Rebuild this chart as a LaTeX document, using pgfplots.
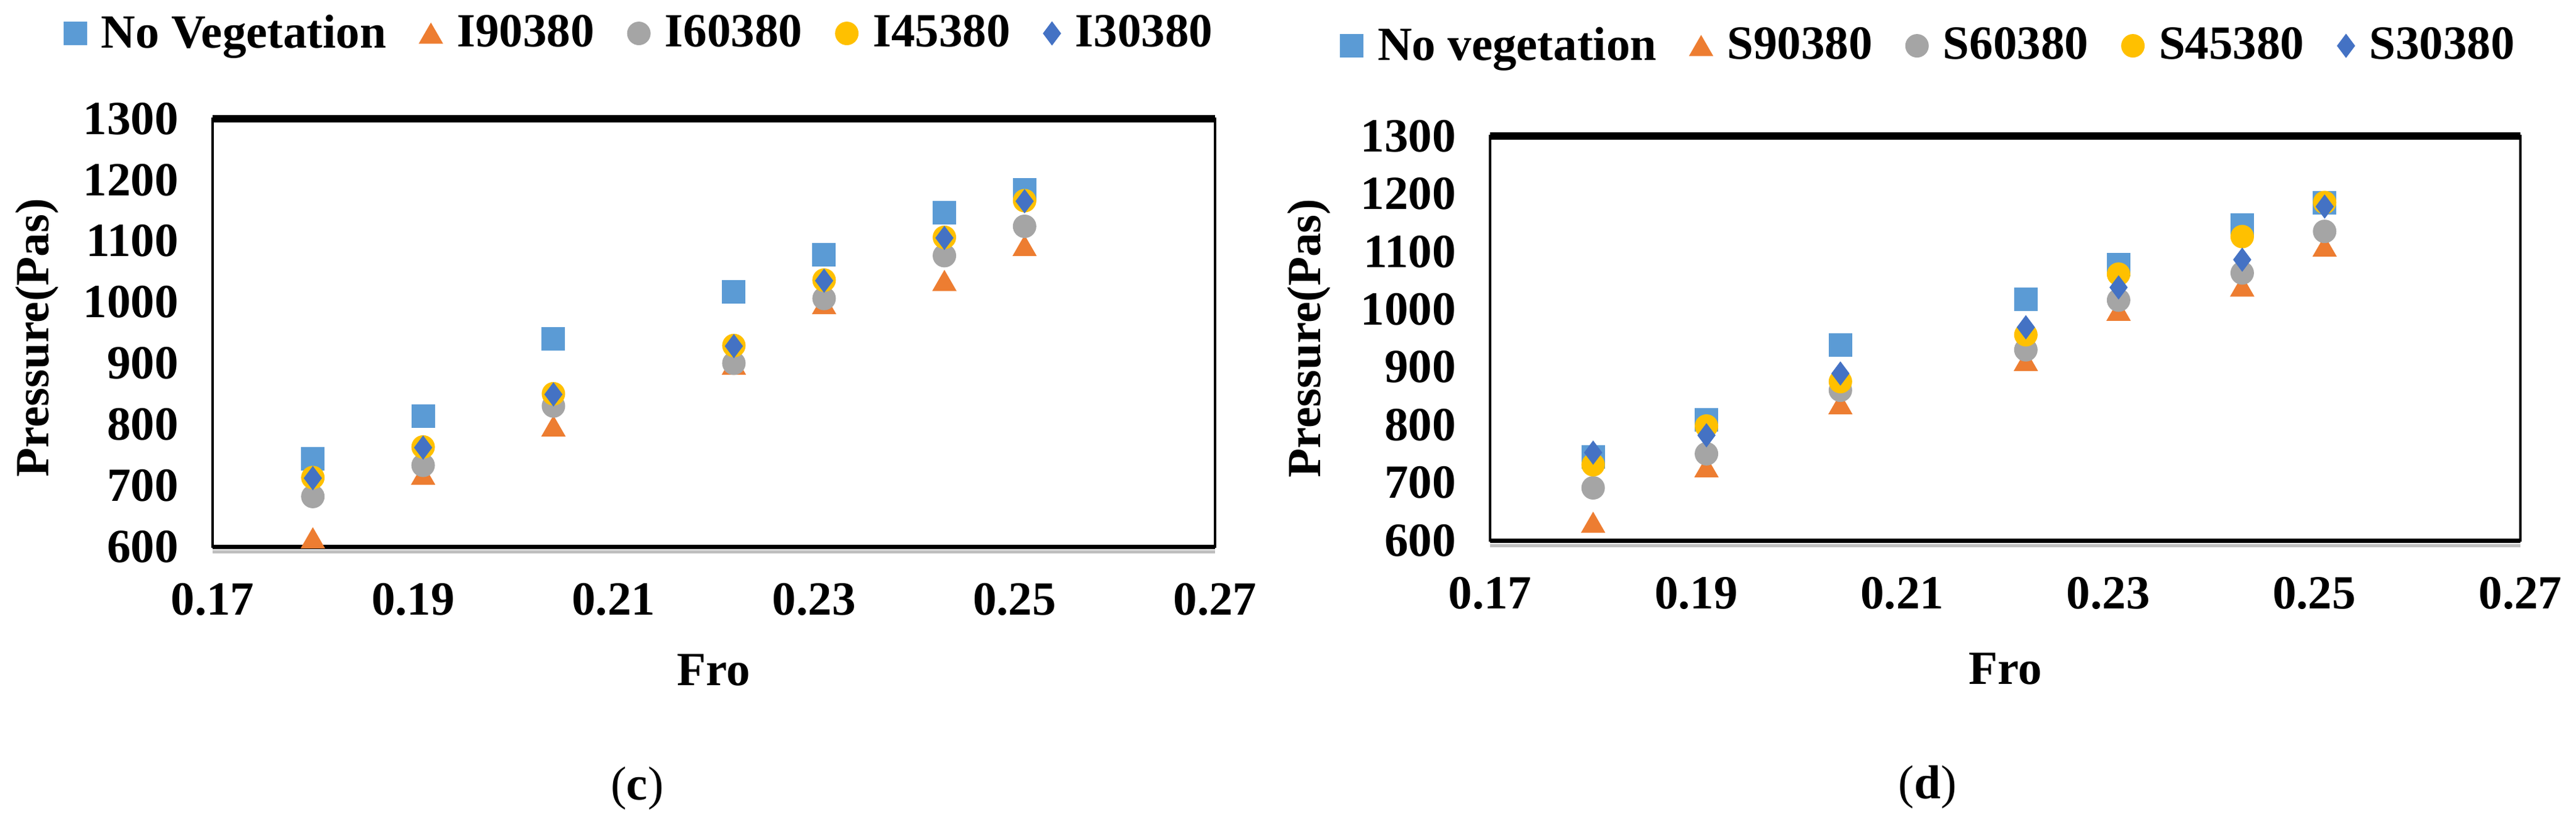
\documentclass[border=0pt]{standalone}
\usepackage{fontspec}
\setmainfont{Liberation Serif}
\usepackage{pgfplots}
\pgfplotsset{compat=1.18}

\definecolor{cblue}{HTML}{5B9BD5}
\definecolor{corange}{HTML}{ED7D31}
\definecolor{cgray}{HTML}{A5A5A5}
\definecolor{cyellow}{HTML}{FFC000}
\definecolor{cdblue}{HTML}{4472C4}

\newcommand{\fs}{\fontsize{15.4pt}{18pt}\selectfont\bfseries}

% data (c)
\pgfplotstableread{
x     nv    a90   a60   a45   a30
0.180 744   614   682   713   712
0.191 813   718   733   763   762
0.204 940   797   830   850   849
0.222 1017  898   900   929   928
0.231 1077  997   1006  1036  1035
0.243 1146  1035  1076  1106  1105
0.251 1184  1092  1124  1166  1165
}\tabc

% data (d)
\pgfplotstableread{
x     nv    a90   a60   a45   a30
0.180 744   631   691   731   752
0.191 809   727   750   798   782
0.204 938   836   860   875   889
0.222 1017  911   930   956   969
0.231 1077  998   1016  1061  1038
0.243 1146  1040  1063  1126  1086
0.251 1184  1109  1135  1185  1178
}\tabd

\pgfplotsset{
  panel/.style={
    scale only axis,
    anchor=south west,
    xmin=0.17, xmax=0.27, ymin=600, ymax=1300,
    xtick={0.17,0.19,0.21,0.23,0.25,0.27},
    xticklabels={0.17,0.19,0.21,0.23,0.25,0.27},
    ytick={600,700,800,900,1000,1100,1200,1300},
    yticklabels={600,700,800,900,1000,1100,1200,1300},
    major tick length=0pt,
    tick style={draw=none},
    tick label style={font=\fs},
    xticklabel style={yshift=-8.3pt},
    yticklabel style={xshift=-7.5pt},
    label style={font=\fs},
    xlabel={Fro},
    ylabel={Pressure(Pas)},
    axis line style={line width=0.7pt},
    clip=false,
    legend columns=5,
    legend style={draw=none, fill=none, anchor=center, font=\fs,
      inner sep=0pt, nodes={inner sep=0pt},
      /tikz/every even column/.append style={column sep=10.8pt},
      /tikz/every odd column/.append style={column sep=4.8pt}},
    legend image code/.code={\draw[##1] plot coordinates {(0pt,0pt)};},
  },
  snv/.style={only marks, mark=square*, mark size=3.6pt, color=cblue},
  s90/.style={only marks, mark=triangle*, mark size=4.16pt, color=corange,
    mark options={yshift=-1.04pt}},
  s60/.style={only marks, mark=*, mark size=3.6pt, color=cgray},
  s45/.style={only marks, mark=*, mark size=3.6pt, color=cyellow},
  s30/.style={only marks, mark=diamond*, mark size=3.6pt, color=cdblue},
  frame/.style={
    execute at end axis={
      \draw[line width=2.4pt] (rel axis cs:0,1) -- (rel axis cs:1,1);
      \draw[black!25, line width=1pt] ([yshift=-1.6pt]rel axis cs:0,0) -- ([yshift=-1.6pt]rel axis cs:1,0);
      \draw[line width=1.4pt] (rel axis cs:0,0) -- (rel axis cs:1,0);
    }
  },
}

\begin{document}
\begin{tikzpicture}
\path[use as bounding box] (0,0) rectangle (833.6pt,266pt);

\begin{axis}[panel, frame,
  at={(68.8pt,89.2pt)}, width=324.4pt, height=138.4pt,
  legend style={at={(0.4248,1.1994)}},
  ylabel style={at={(axis description cs:-0.175,0.488)}, anchor=center},
  xlabel style={at={(axis description cs:0.5,-0.289)}, anchor=center}]
  \addplot[snv] table[x=x, y=nv] {\tabc};
  \addlegendentry{No Vegetation}
  \addplot[s90] table[x=x, y=a90] {\tabc};
  \addlegendentry{I90380}
  \addplot[s60] table[x=x, y=a60] {\tabc};
  \addlegendentry{I60380}
  \addplot[s45] table[x=x, y=a45] {\tabc};
  \addlegendentry{I45380}
  \addplot[s30] table[x=x, y=a30] {\tabc};
  \addlegendentry{I30380}
\end{axis}

\begin{axis}[panel, frame,
  at={(482.2pt,91.2pt)}, width=333.4pt, height=130.8pt,
  legend style={at={(0.4247,1.2232)}},
  ylabel style={at={(axis description cs:-0.176,0.5)}, anchor=center},
  xlabel style={at={(axis description cs:0.5,-0.318)}, anchor=center}]
  \addplot[snv] table[x=x, y=nv] {\tabd};
  \addlegendentry{No vegetation}
  \addplot[s90] table[x=x, y=a90] {\tabd};
  \addlegendentry{S90380}
  \addplot[s60] table[x=x, y=a60] {\tabd};
  \addlegendentry{S60380}
  \addplot[s45] table[x=x, y=a45] {\tabd};
  \addlegendentry{S45380}
  \addplot[s30] table[x=x, y=a30] {\tabd};
  \addlegendentry{S30380}
\end{axis}

\node[font=\fontsize{15.4pt}{18pt}\selectfont] at (206.2pt,11pt) {(\textbf{c})};
\node[font=\fontsize{15.4pt}{18pt}\selectfont] at (623.8pt,11.4pt) {(\textbf{d})};
\end{tikzpicture}
\end{document}
